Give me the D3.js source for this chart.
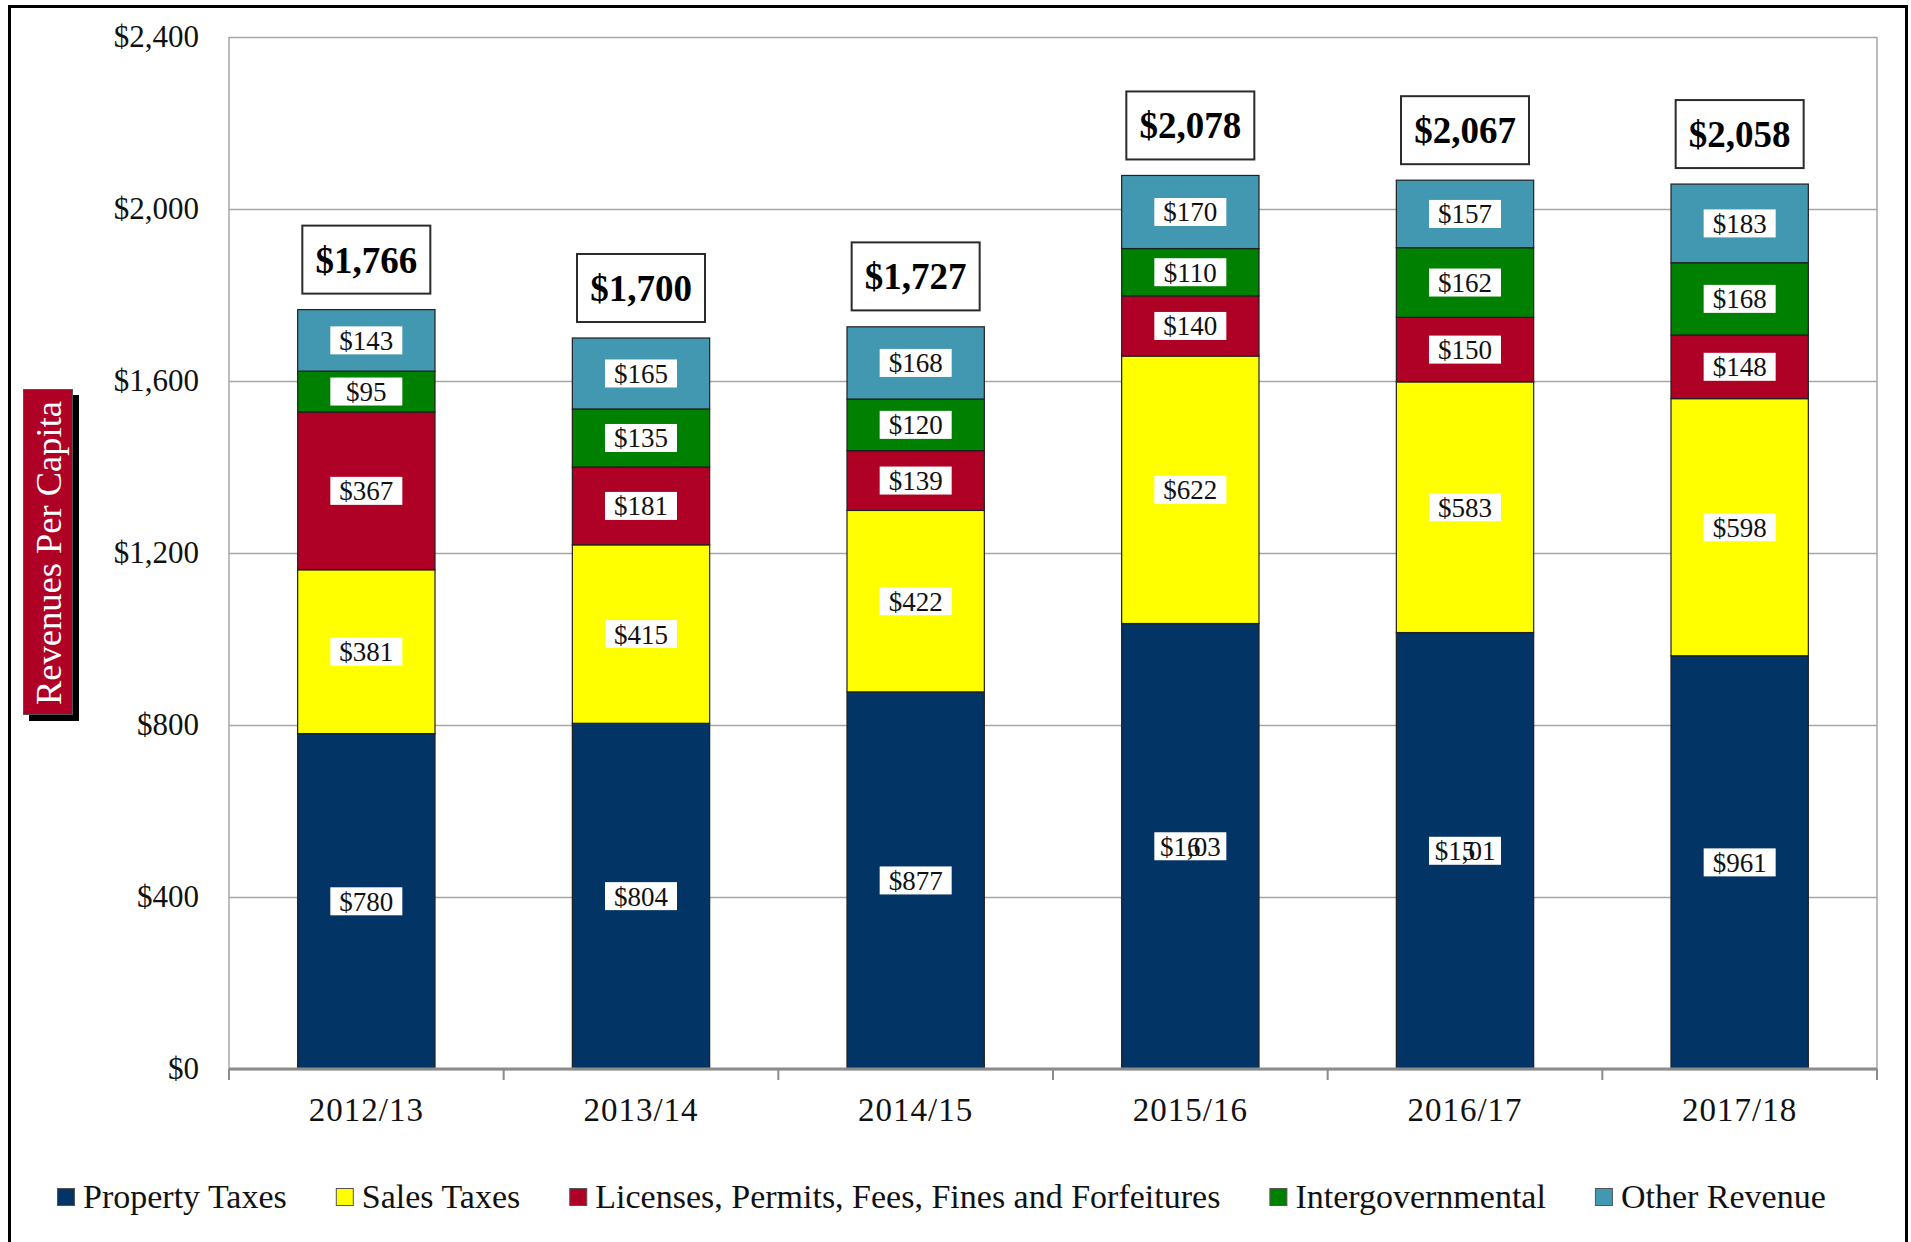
<!DOCTYPE html>
<html>
<head>
<meta charset="utf-8">
<script src="https://cdn.jsdelivr.net/npm/d3@7"></script>
<style>
  body { margin: 0; background: #fff; }
  svg { display: block; font-family: "Liberation Serif", "Times New Roman", serif; }
</style>
</head>
<body>
<div id="chart"></div>
<script>
// data
var years = ['2012/13', '2013/14', '2014/15', '2015/16', '2016/17', '2017/18'];
var seriesNames = ['Property Taxes', 'Sales Taxes', 'Licenses, Permits, Fees, Fines and Forfeitures', 'Intergovernmental', 'Other Revenue'];
var seriesKeys = ['property', 'sales', 'licenses', 'intergov', 'other'];
var property = [780, 804, 877, 1036, 1015, 961];
var sales = [381, 415, 422, 622, 583, 598];
var licenses = [367, 181, 139, 140, 150, 148];
var intergov = [95, 135, 120, 110, 162, 168];
var other = [143, 165, 168, 170, 157, 183];
var totals = [1766, 1700, 1727, 2078, 2067, 2058];
var yTicks = [0, 400, 800, 1200, 1600, 2000, 2400];

var colors = ['#023466', '#FFFF00', '#AF0026', '#008000', '#4398B1'];

var W = 1911, H = 1242;
var plotLeft = 229, plotRight = 1877, plotTop = 37, plotBottom = 1069;

var rows = years.map(function(yr, i) {
  return { year: yr, property: property[i], sales: sales[i], licenses: licenses[i],
           intergov: intergov[i], other: other[i], total: totals[i] };
});

var svg = d3.select('#chart').append('svg')
            .attr('width', W)
            .attr('height', H);

// outer frame
svg.append('rect')
   .attr('x', 9.5).attr('y', 6.5)
   .attr('width', 1897).attr('height', 1260)
   .attr('fill', 'none')
   .attr('stroke', '#000')
   .attr('stroke-width', 3);

var x = d3.scaleBand()
          .domain(years)
          .range([plotLeft, plotRight])
          .paddingInner(0.5)
          .paddingOuter(0.25);

var y = d3.scaleLinear()
          .domain([0, 2400])
          .range([plotBottom, plotTop]);

var fmt = d3.format('$,');

// gridlines + y labels
var yAxis = d3.axisLeft(y)
              .tickValues(yTicks)
              .tickSize(-(plotRight - plotLeft))
              .tickPadding(30)
              .tickFormat(fmt);
var gy = svg.append('g')
            .attr('transform', 'translate(' + plotLeft + ',0)')
            .call(yAxis);
gy.select('.domain').remove();
gy.selectAll('line').attr('stroke', '#A6A6A6').attr('stroke-width', 1.5);
gy.selectAll('text')
  .attr('font-size', 31)
  .attr('fill', '#111')
  .attr('font-family', '"Liberation Serif", serif');

// plot frame (left, right)
svg.append('line').attr('x1', plotLeft).attr('x2', plotLeft).attr('y1', plotTop).attr('y2', plotBottom)
   .attr('stroke', '#A6A6A6').attr('stroke-width', 1.5);
svg.append('line').attr('x1', plotRight).attr('x2', plotRight).attr('y1', plotTop).attr('y2', plotBottom)
   .attr('stroke', '#A6A6A6').attr('stroke-width', 1.5);

// stacked bars
var stack = d3.stack().keys(seriesKeys);
var layers = stack(rows);

var layer = svg.selectAll('g.layer')
               .data(layers)
               .enter()
               .append('g')
               .attr('class', 'layer')
               .attr('fill', function(d, i) { return colors[i]; });

layer.selectAll('rect')
     .data(function(d) { return d; })
     .enter()
     .append('rect')
     .attr('x', function(d) { return x(d.data.year); })
     .attr('y', function(d) { return y(d[1]); })
     .attr('width', x.bandwidth())
     .attr('height', function(d) { return y(d[0]) - y(d[1]); })
     .attr('stroke', '#1f1f1f')
     .attr('stroke-width', 1.2);

// x axis
var xAxis = d3.axisBottom(x).tickSize(0).tickPadding(29);
var gx = svg.append('g')
            .attr('transform', 'translate(0,' + plotBottom + ')')
            .call(xAxis);
gx.select('.domain').attr('stroke', '#8C8C8C').attr('stroke-width', 3)
  .attr('d', 'M' + plotLeft + ',0H' + plotRight);
gx.selectAll('text')
  .attr('font-size', 33)
  .attr('fill', '#111')
  .attr('letter-spacing', 1)
  .attr('font-family', '"Liberation Serif", serif');

// tick marks between categories
var bounds = years.map(function(yr) { return x(yr) - (x.step() - x.bandwidth()) / 2; });
bounds.push(plotRight);
svg.selectAll('line.xtick')
   .data(bounds)
   .enter()
   .append('line')
   .attr('class', 'xtick')
   .attr('x1', function(d) { return d; })
   .attr('x2', function(d) { return d; })
   .attr('y1', plotBottom)
   .attr('y2', plotBottom + 11)
   .attr('stroke', '#8C8C8C')
   .attr('stroke-width', 2);

// value labels inside segments
var labelFont = 27;
var segs = [];
layers.forEach(function(l) {
  l.forEach(function(d) {
    segs.push({ year: d.data.year, v: d[1] - d[0], mid: (d[0] + d[1]) / 2 });
  });
});

var seg = svg.selectAll('g.seglabel')
             .data(segs)
             .enter()
             .append('g')
             .attr('class', 'seglabel')
             .attr('transform', function(d) {
               return 'translate(' + (x(d.year) + x.bandwidth() / 2) + ',' + y(d.mid) + ')';
             });
seg.append('rect')
   .attr('x', -36).attr('y', -14)
   .attr('width', 72).attr('height', 28)
   .attr('fill', '#fff');
seg.each(function(d) {
  var s = fmt(d.v);
  var t = d3.select(this).append('text')
            .attr('font-size', labelFont)
            .attr('fill', '#111')
            .attr('dy', '0.35em')
            .text(s);
  if (d.v >= 1000) {
    // the reference prints the last digit on top of the comma
    var em = labelFont;
    var x0 = -1.125 * em;
    var pos = [0, 0.5, 1.0, 1.25, 1.75, 1.0].map(function(p) { return x0 + p * em; });
    t.attr('x', pos.join(' '));
  } else {
    t.attr('text-anchor', 'middle');
  }
});

// totals above the bars
var tot = svg.selectAll('g.total')
             .data(rows)
             .enter()
             .append('g')
             .attr('class', 'total')
             .attr('transform', function(d) {
               return 'translate(' + (x(d.year) + x.bandwidth() / 2) + ',' + (y(d.total) - 50) + ')';
             });
tot.append('rect')
   .attr('x', -64).attr('y', -34)
   .attr('width', 128).attr('height', 68)
   .attr('fill', '#fff')
   .attr('stroke', '#2b2b2b')
   .attr('stroke-width', 2);
tot.append('text')
   .attr('text-anchor', 'middle')
   .attr('dy', '0.35em')
   .attr('font-size', 37)
   .attr('font-weight', 'bold')
   .attr('fill', '#000')
   .text(function(d) { return fmt(d.total); });

// y title badge
var badge = svg.append('g');
badge.append('rect')
     .attr('x', 29).attr('y', 395)
     .attr('width', 50).attr('height', 326)
     .attr('fill', '#000');
badge.append('rect')
     .attr('x', 23.5).attr('y', 389.5)
     .attr('width', 49).attr('height', 325)
     .attr('fill', '#AF0026')
     .attr('stroke', '#555')
     .attr('stroke-width', 1);
badge.append('text')
     .attr('transform', 'translate(48,553) rotate(-90)')
     .attr('text-anchor', 'middle')
     .attr('dy', '0.35em')
     .attr('font-size', 36.5)
     .attr('fill', '#fff')
     .text('Revenues Per Capita');

// legend
var legend = svg.append('g').attr('transform', 'translate(0,1197)');
var lx = 57;
seriesNames.forEach(function(name, i) {
  var g = legend.append('g').attr('transform', 'translate(' + lx + ',0)');
  g.append('rect')
   .attr('x', 0.5).attr('y', -8.5)
   .attr('width', 17).attr('height', 17)
   .attr('fill', colors[i])
   .attr('stroke', '#555')
   .attr('stroke-width', 1);
  var t = g.append('text')
           .attr('x', 26)
           .attr('dy', '0.33em')
           .attr('font-size', 34)
           .attr('fill', '#111')
           .text(name);
  lx += 26 + t.node().getComputedTextLength() + 49;
});
</script>
</body>
</html>
